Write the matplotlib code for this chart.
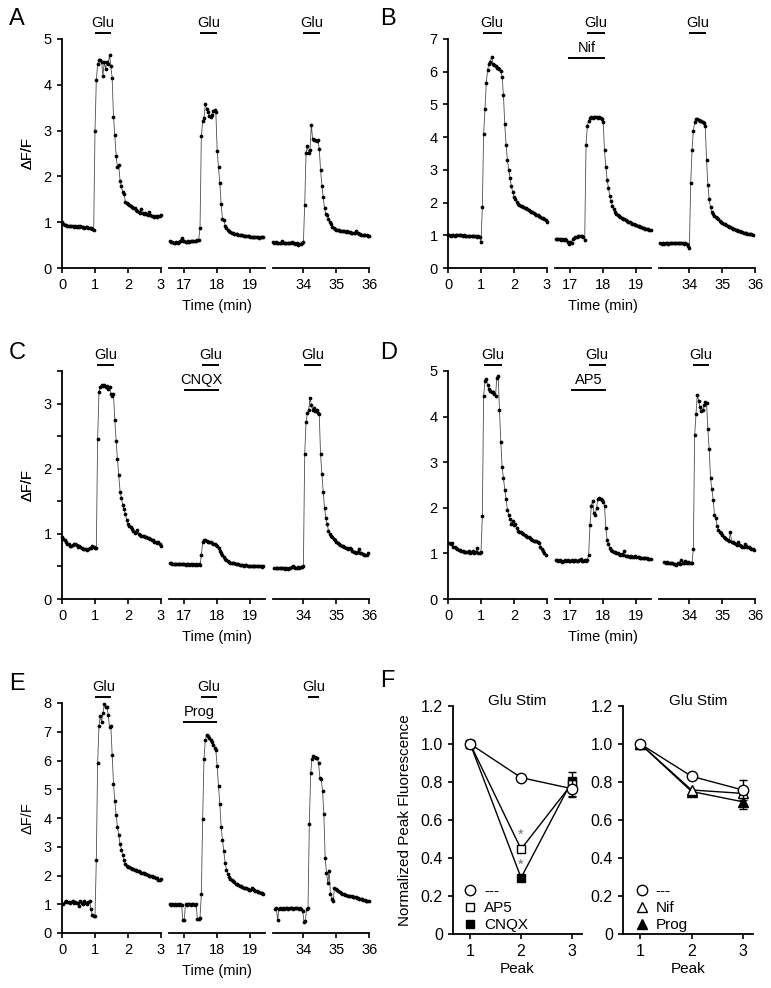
import numpy as np
import matplotlib
matplotlib.use('Agg')
import matplotlib.pyplot as plt
import matplotlib.transforms as mtransforms
from matplotlib.lines import Line2D

plt.rcParams['font.family'] = ['Liberation Sans', 'DejaVu Sans']
plt.rcParams['font.size'] = 10
plt.rcParams['axes.linewidth'] = 1.3
plt.rcParams['xtick.major.width'] = 1.2
plt.rcParams['ytick.major.width'] = 1.2
plt.rcParams['xtick.major.size'] = 3.8
plt.rcParams['ytick.major.size'] = 3.8
plt.rcParams['xtick.labelsize'] = 10.5
plt.rcParams['ytick.labelsize'] = 10.5

W, H = 771, 988
DT = 0.04  # sampling interval of the imaging traces (min)

###  traces, dF/F sampled every DT min, start times per segment
A_t0 = [0.0, 16.58, 33.08]
A_seg1 = [1.00,0.97,0.94,0.93,0.92,0.92,0.91,0.92,0.91,0.90,
          0.92,0.90,0.91,0.90,0.91,0.89,0.90,0.88,0.89,0.89,
          0.88,0.87,0.88,0.86,0.83,3.00,4.10,4.45,4.55,4.55,
          4.50,4.20,4.50,4.35,4.50,4.45,4.65,4.40,4.15,3.30,
          2.90,2.45,2.20,2.25,1.90,1.78,1.65,1.62,1.45,1.43,
          1.40,1.38,1.36,1.33,1.30,1.30,1.27,1.25,1.22,1.20,
          1.28,1.20,1.18,1.20,1.17,1.15,1.22,1.15,1.13,1.13,
          1.12,1.13,1.12,1.14,1.13,1.15]
A_seg2 = [0.58,0.57,0.56,0.55,0.55,0.56,0.55,0.57,0.60,0.65,
          0.60,0.58,0.57,0.57,0.58,0.57,0.58,0.58,0.59,0.60,
          0.60,0.61,0.62,0.87,2.88,3.20,3.27,3.58,3.48,3.40,
          3.32,3.30,3.35,3.42,3.45,3.40,2.55,2.20,1.85,1.40,
          1.08,1.05,0.92,0.88,0.83,0.80,0.78,0.77,0.76,0.75,
          0.75,0.74,0.73,0.73,0.72,0.71,0.70,0.70,0.69,0.70,
          0.69,0.68,0.68,0.68,0.67,0.68,0.67,0.67,0.66,0.67,
          0.67,0.68]
A_seg3 = [0.56,0.55,0.56,0.55,0.54,0.55,0.55,0.60,0.55,0.54,
          0.55,0.54,0.55,0.54,0.56,0.55,0.54,0.53,0.55,0.51,
          0.53,0.52,0.54,0.56,1.38,2.50,2.67,2.50,2.58,3.13,
          2.82,2.80,2.80,2.78,2.80,2.60,2.15,1.80,1.55,1.30,
          1.18,1.15,1.08,1.00,0.95,0.90,0.88,0.85,0.84,0.83,
          0.82,0.81,0.80,0.81,0.80,0.79,0.80,0.78,0.78,0.77,
          0.77,0.76,0.76,0.80,0.76,0.75,0.74,0.73,0.73,0.72,
          0.71,0.71,0.70,0.70]

B_t0 = [0.0, 16.58, 33.12]
B_seg1 = [1.00,1.00,0.99,1.00,1.00,0.99,1.00,1.02,1.00,1.01,
          1.00,0.99,1.00,0.99,0.98,0.99,0.98,0.98,0.97,0.98,
          0.97,0.97,0.96,0.97,0.96,0.78,1.85,4.10,4.85,5.65,
          6.05,6.25,6.30,6.45,6.25,6.20,6.18,6.12,6.10,6.08,
          6.02,5.85,5.28,4.40,3.75,3.30,3.00,2.75,2.50,2.32,
          2.18,2.10,2.03,1.97,1.93,1.90,1.88,1.86,1.84,1.82,
          1.80,1.77,1.75,1.72,1.70,1.68,1.65,1.63,1.61,1.58,
          1.56,1.54,1.52,1.49,1.46,1.42]
B_seg2 = [0.90,0.88,0.89,0.88,0.87,0.88,0.86,0.90,0.85,0.78,
          0.72,0.80,0.76,0.90,0.93,0.95,0.96,0.98,0.97,0.98,
          0.98,0.96,0.85,3.75,4.35,4.50,4.58,4.62,4.60,4.63,
          4.61,4.62,4.60,4.62,4.60,4.55,4.45,3.60,3.10,2.70,
          2.45,2.20,2.05,1.90,1.80,1.72,1.66,1.62,1.59,1.56,
          1.53,1.51,1.49,1.46,1.44,1.42,1.40,1.38,1.36,1.34,
          1.32,1.30,1.28,1.27,1.25,1.24,1.22,1.21,1.20,1.19,
          1.18,1.17,1.16]
B_seg3 = [0.75,0.72,0.76,0.72,0.75,0.76,0.74,0.75,0.75,0.76,
          0.75,0.75,0.76,0.75,0.75,0.76,0.75,0.75,0.74,0.75,
          0.74,0.68,0.62,2.60,3.60,4.20,4.45,4.55,4.56,4.53,
          4.50,4.50,4.46,4.42,4.35,3.30,2.55,2.10,1.85,1.72,
          1.65,1.60,1.56,1.52,1.49,1.45,1.42,1.39,1.36,1.33,
          1.31,1.28,1.26,1.24,1.22,1.20,1.18,1.16,1.15,1.13,
          1.12,1.11,1.09,1.08,1.07,1.06,1.05,1.04,1.03,1.03,
          1.02]

C_t0 = [0.0, 16.58, 33.12]
C_seg1 = [0.95,0.92,0.90,0.88,0.85,0.84,0.82,0.81,0.83,0.85,
          0.84,0.83,0.80,0.81,0.80,0.78,0.77,0.76,0.77,0.75,
          0.76,0.78,0.79,0.82,0.80,0.78,0.79,2.45,3.18,3.26,
          3.28,3.27,3.28,3.25,3.27,3.22,3.26,3.15,3.12,3.14,
          2.75,2.43,2.15,1.90,1.65,1.55,1.45,1.38,1.30,1.22,
          1.15,1.12,1.10,1.07,1.04,1.02,1.03,1.06,1.00,0.98,
          0.97,0.96,0.96,0.95,0.95,0.94,0.93,0.92,0.90,0.90,
          0.88,0.87,0.86,0.87,0.84,0.82]
C_seg2 = [0.55,0.55,0.54,0.53,0.54,0.54,0.53,0.54,0.53,0.54,
          0.53,0.53,0.52,0.53,0.53,0.52,0.53,0.52,0.53,0.52,
          0.53,0.52,0.53,0.52,0.67,0.88,0.91,0.90,0.89,0.88,
          0.87,0.87,0.86,0.85,0.85,0.83,0.82,0.78,0.74,0.70,
          0.67,0.64,0.62,0.60,0.59,0.57,0.56,0.56,0.55,0.55,
          0.54,0.53,0.53,0.52,0.52,0.52,0.51,0.52,0.52,0.51,
          0.51,0.51,0.50,0.51,0.50,0.51,0.50,0.50,0.50,0.50,
          0.49,0.50]
C_seg3 = [0.48,0.48,0.47,0.48,0.47,0.48,0.47,0.47,0.46,0.47,
          0.46,0.47,0.47,0.49,0.50,0.49,0.48,0.48,0.49,0.48,
          0.49,0.49,0.50,2.22,2.72,2.85,2.90,3.08,2.98,2.90,
          2.93,2.88,2.90,2.86,2.84,2.22,1.92,1.65,1.40,1.25,
          1.15,1.05,1.00,0.97,0.95,0.92,0.90,0.88,0.86,0.84,
          0.83,0.82,0.81,0.80,0.79,0.78,0.76,0.79,0.76,0.74,
          0.72,0.72,0.71,0.72,0.76,0.70,0.71,0.69,0.68,0.67,
          0.68,0.70]

D_t0 = [0.04, 16.58, 33.24]
D_seg1 = [1.22,1.20,1.23,1.15,1.14,1.12,1.10,1.08,1.07,1.05,
          1.06,1.03,1.04,1.02,1.02,1.05,1.01,1.02,1.05,1.00,
          1.02,1.12,1.01,1.00,1.02,1.82,4.45,4.78,4.82,4.70,
          4.60,4.56,4.55,4.54,4.50,4.45,4.85,4.88,4.15,3.45,
          2.90,2.65,2.40,2.20,1.95,1.85,1.75,1.65,1.72,1.62,
          1.65,1.55,1.50,1.48,1.46,1.44,1.42,1.40,1.38,1.36,
          1.35,1.33,1.31,1.30,1.28,1.28,1.27,1.25,1.22,1.15,
          1.10,1.05,1.00,0.97]
D_seg2 = [0.85,0.85,0.84,0.85,0.83,0.82,0.84,0.85,0.84,0.85,
          0.84,0.84,0.85,0.84,0.83,0.85,0.84,0.84,0.85,0.88,
          0.84,0.84,0.85,0.84,0.85,0.97,1.62,2.05,2.15,1.88,
          1.85,2.00,2.20,2.22,2.20,2.18,2.12,2.05,1.55,1.30,
          1.20,1.12,1.08,1.06,1.04,1.02,1.01,1.00,0.98,0.97,
          0.98,0.96,1.05,0.95,0.94,0.95,0.93,0.94,0.93,0.93,
          0.94,0.92,0.93,0.92,0.91,0.90,0.91,0.90,0.89,0.90,
          0.88,0.88,0.87]
D_seg3 = [0.82,0.80,0.81,0.80,0.79,0.78,0.79,0.77,0.76,0.75,
          0.78,0.80,0.77,0.86,0.80,0.78,0.84,0.80,0.81,0.79,
          0.78,0.79,1.10,3.60,4.05,4.48,4.35,4.20,4.12,4.15,
          4.25,4.32,4.30,3.72,3.28,2.65,2.42,2.18,1.85,1.78,
          1.60,1.52,1.48,1.44,1.40,1.36,1.33,1.31,1.30,1.28,
          1.46,1.26,1.24,1.22,1.20,1.19,1.25,1.18,1.17,1.15,
          1.14,1.20,1.17,1.15,1.14,1.12,1.10,1.09,1.07]

E_t0 = [0.04, 16.58, 33.14]
E_seg1 = [1.00,1.08,1.10,1.08,1.08,1.05,1.07,1.10,1.05,1.08,
          1.04,1.06,0.95,1.10,1.04,1.00,1.10,1.05,1.02,1.08,
          1.10,0.82,0.62,0.58,0.60,2.55,5.90,7.20,7.55,7.35,
          7.65,7.95,7.85,7.85,7.60,7.15,7.20,6.20,5.20,4.60,
          4.10,3.70,3.40,3.10,2.90,2.70,2.55,2.40,2.33,2.30,
          2.28,2.26,2.24,2.22,2.20,2.18,2.15,2.14,2.12,2.10,
          2.08,2.07,2.05,2.04,2.02,2.00,1.99,1.98,1.96,1.95,
          1.92,1.90,1.86,1.84,1.88]
E_seg2 = [1.00,0.98,1.00,0.99,1.00,0.99,1.00,0.98,1.00,0.99,
          0.45,0.45,1.00,0.99,1.00,1.00,0.99,1.00,1.00,0.99,
          1.00,0.50,0.48,0.52,1.35,3.95,6.05,6.70,6.90,6.85,
          6.78,6.70,6.65,6.55,6.45,6.35,5.80,5.10,4.50,3.70,
          3.25,2.85,2.45,2.20,2.05,1.95,1.88,1.83,1.80,1.76,
          1.72,1.70,1.67,1.65,1.62,1.60,1.58,1.56,1.55,1.52,
          1.50,1.50,1.55,1.52,1.50,1.47,1.45,1.43,1.42,1.40,
          1.38,1.36]
E_seg3 = [0.85,0.86,0.45,0.85,0.86,0.85,0.86,0.85,0.86,0.86,
          0.85,0.86,0.87,0.86,0.85,0.86,0.87,0.86,0.85,0.86,
          0.85,0.75,0.38,0.42,0.85,0.88,3.78,5.55,6.05,6.15,
          6.12,6.10,6.08,5.90,5.40,5.35,4.95,4.15,2.60,2.10,
          1.75,2.15,1.35,1.20,1.10,1.55,1.52,1.48,1.45,1.42,
          1.40,1.37,1.35,1.33,1.32,1.30,1.29,1.28,1.27,1.26,
          1.25,1.24,1.22,1.21,1.20,1.20,1.18,1.16,1.14,1.12,
          1.11,1.10]

# drug applications: (segment, label, on, off, row)
A_drugs = [(0, 'Glu', 1.0, 1.5, 0), (1, 'Glu', 17.5, 18.0, 0), (2, 'Glu', 34.0, 34.5, 0)]
B_drugs = [(0, 'Glu', 1.05, 1.63, 0), (1, 'Glu', 17.53, 18.08, 0), (1, 'Nif', 16.95, 18.08, 1),
           (2, 'Glu', 34.0, 34.5, 0)]
C_drugs = [(0, 'Glu', 1.07, 1.59, 0), (1, 'Glu', 17.55, 18.09, 0), (1, 'CNQX', 17.0, 18.09, 1),
           (2, 'Glu', 34.03, 34.53, 0)]
D_drugs = [(0, 'Glu', 1.08, 1.65, 0), (1, 'Glu', 17.58, 18.1, 0), (1, 'AP5', 17.05, 18.1, 1),
           (2, 'Glu', 34.1, 34.6, 0)]
E_drugs = [(0, 'Glu', 1.01, 1.5, 0), (1, 'Glu', 17.54, 18.0, 0), (1, 'Prog', 16.97, 18.0, 1),
           (2, 'Glu', 34.15, 34.48, 0)]

### panel F: normalized peak fluorescence
PEAKS = [1, 2, 3]
F_ctrl1 = [1.0, 0.823, 0.765]
F_ctrl1_err = [0, 0, 0.045]
F_ap5 = [1.0, 0.447, 0.79]
F_ap5_err = [0, 0, 0.064]
F_cnqx = [1.0, 0.296, 0.805]
F_cnqx_err = [0, 0, 0]
F_ctrl2 = [1.0, 0.83, 0.758]
F_ctrl2_err = [0, 0, 0.052]
F_nif = [1.0, 0.758, 0.74]
F_nif_err = [0, 0, 0]
F_prog = [1.0, 0.75, 0.696]
F_prog_err = [0, 0, 0.036]
F_YTICKS = [0, 0.2, 0.4, 0.6, 0.8, 1.0, 1.2]
F_YLABELS = ['0', '0.2', '0.4', '0.6', '0.8', '1.0', '1.2']

SEG_LIMS = [(0.0, 3.0), (16.56, 19.47), (33.08, 36.0)]
SEG_TICKS = [[0, 1, 2, 3], [17, 18, 19], [34, 35, 36]]
PX_PER_MIN = 33.0
GAP = 8

fig = plt.figure(figsize=(W / 100, H / 100), dpi=100)


def box(x0, y0, x1, y1):
    return [x0 / W, 1 - y1 / H, (x1 - x0) / W, (y1 - y0) / H]


def drug_bars(ax, drugs, seg, h_px):
    tr = mtransforms.blended_transform_factory(ax.transData, ax.transAxes)
    for s, name, t_on, t_off, row in drugs:
        if s != seg:
            continue
        if row == 0:
            bar_y, txt_y = 1 + 6 / h_px, 1 + 16 / h_px
        else:
            bar_y, txt_y = 1 - 19 / h_px, 1 - 9 / h_px
        ax.plot([t_on, t_off], [bar_y, bar_y], color='k', lw=1.4, transform=tr,
                clip_on=False, solid_capstyle='butt')
        ax.text((t_on + t_off) / 2, txt_y, name, transform=tr, ha='center',
                va='center', fontsize=10.5)


def trace_panel(x_left, top, bot, traces, t0s, drugs, ylim, yticks, ylabels, letter, lx, ly):
    h_px = bot - top
    x = x_left
    centers = []
    for i, (lo, hi) in enumerate(SEG_LIMS):
        w = (hi - lo) * PX_PER_MIN
        ax = fig.add_axes(box(x, top, x + w, bot))
        vals = np.array(traces[i])
        t = t0s[i] + DT * np.arange(len(vals))
        ax.plot(t, vals, color='0.3', lw=0.6, clip_on=False)
        ax.plot(t, vals, 'o', color='k', ms=2.7, mew=0, clip_on=False)
        ax.set_xlim(lo, hi)
        ax.set_ylim(*ylim)
        ax.set_xticks(SEG_TICKS[i])
        ax.spines['top'].set_visible(False)
        ax.spines['right'].set_visible(False)
        if i == 0:
            ax.set_yticks(yticks)
            ax.set_yticklabels(ylabels)
        else:
            ax.spines['left'].set_visible(False)
            ax.set_yticks([])
        ax.patch.set_visible(False)
        drug_bars(ax, drugs, i, h_px)
        centers.append(x + w / 2)
        x += w + GAP
    fig.text(28 / W, 1 - (top + bot) / 2 / H, 'ΔF/F', rotation=90, ha='center',
             va='center', fontsize=10.5)
    fig.text(centers[1] / W, 1 - (bot + 38) / H, 'Time (min)', ha='center',
             va='center', fontsize=10.5)
    fig.text(lx / W, 1 - ly / H, letter, ha='left', va='top', fontsize=17)


LEFT, RIGHT = 62, 448
trace_panel(LEFT, 39, 268, [A_seg1, A_seg2, A_seg3], A_t0, A_drugs, (0, 5), [0, 1, 2, 3, 4, 5],
            ['0', '1', '2', '3', '4', '5'], 'A', 9, 8)
trace_panel(RIGHT, 39, 268, [B_seg1, B_seg2, B_seg3], B_t0, B_drugs, (0, 7), list(range(8)),
            [str(v) for v in range(8)], 'B', 380, 8)
trace_panel(LEFT, 371, 599, [C_seg1, C_seg2, C_seg3], C_t0, C_drugs, (0, 3.5),
            [0, 0.5, 1, 1.5, 2, 2.5, 3, 3.5], ['0', '', '1', '', '2', '', '3', ''], 'C', 9, 342)
trace_panel(RIGHT, 371, 599, [D_seg1, D_seg2, D_seg3], D_t0, D_drugs, (0, 5), [0, 1, 2, 3, 4, 5],
            ['0', '1', '2', '3', '4', '5'], 'D', 380, 342)
trace_panel(LEFT, 703, 933, [E_seg1, E_seg2, E_seg3], E_t0, E_drugs, (0, 8), list(range(9)),
            [str(v) for v in range(9)], 'E', 9, 673)

# ---- panel F ----
fig.text(380 / W, 1 - 670 / H, 'F', ha='left', va='top', fontsize=17)
fig.text(405 / W, 1 - 820 / H, 'Normalized Peak Fluorescence', rotation=90, ha='center',
         va='center', fontsize=11)


def series(ax, y, err, marker, face, z, ms):
    ax.plot(PEAKS, y, color='k', lw=1.0, marker=marker, ms=ms, mfc=face, mec='k',
            mew=1.0, zorder=z, clip_on=False)
    x = np.array(PEAKS)
    e = np.array(err)
    m = e > 0
    if m.any():
        ax.errorbar(x[m], np.array(y)[m], yerr=e[m], fmt='none', ecolor='k', elinewidth=1.0,
                    capsize=3.2, capthick=1.0, zorder=z - 0.5)


axL = fig.add_axes(box(453, 706, 582, 934))
axR = fig.add_axes(box(623, 706, 753, 934))
for ax in (axL, axR):
    ax.set_xlim(0.66, 3.2)
    ax.set_ylim(0, 1.2)
    ax.set_xticks(PEAKS)
    ax.set_yticks(F_YTICKS)
    ax.set_yticklabels(F_YLABELS)
    ax.tick_params(labelsize=11.5)
    ax.spines['top'].set_visible(False)
    ax.spines['right'].set_visible(False)
    ax.set_xlabel('Peak', fontsize=11, labelpad=2)
    ax.patch.set_visible(False)

series(axL, F_cnqx, F_cnqx_err, 's', 'k', 3, 6.2)
series(axL, F_ap5, F_ap5_err, 's', 'white', 4, 6.2)
series(axL, F_ctrl1, F_ctrl1_err, 'o', 'white', 5, 7.5)
axL.text(2, 0.52, '*', color='0.45', ha='center', va='center', fontsize=10.5)
axL.text(2, 0.365, '*', color='0.45', ha='center', va='center', fontsize=10.5)
axL.text(0.5, 1.022, 'Glu Stim', transform=axL.transAxes, ha='center', va='center', fontsize=11)

series(axR, F_prog, F_prog_err, '^', 'k', 3, 7.5)
series(axR, F_nif, F_nif_err, '^', 'white', 4, 7.5)
series(axR, F_ctrl2, F_ctrl2_err, 'o', 'white', 5, 7.5)
axR.text(0.58, 1.022, 'Glu Stim', transform=axR.transAxes, ha='center', va='center', fontsize=11)


def leg(ax, entries, anchor):
    hs = [Line2D([], [], ls='none', marker=m, mfc=f, mec='k', mew=1.0, ms=s)
          for m, f, s, _ in entries]
    ax.legend(hs, [e[3] for e in entries], loc='lower left', bbox_to_anchor=anchor,
              frameon=False, handlelength=1.0, handletextpad=0.4, labelspacing=0.2,
              borderpad=0, borderaxespad=0, fontsize=11)


leg(axL, [('o', 'white', 7.5, '---'), ('s', 'white', 6.2, 'AP5'), ('s', 'k', 6.2, 'CNQX')],
    (0.075, 0.008))
leg(axR, [('o', 'white', 7.5, '---'), ('^', 'white', 7.5, 'Nif'), ('^', 'k', 7.5, 'Prog')],
    (0.085, 0.008))

fig.savefig('out.png', dpi=100)
